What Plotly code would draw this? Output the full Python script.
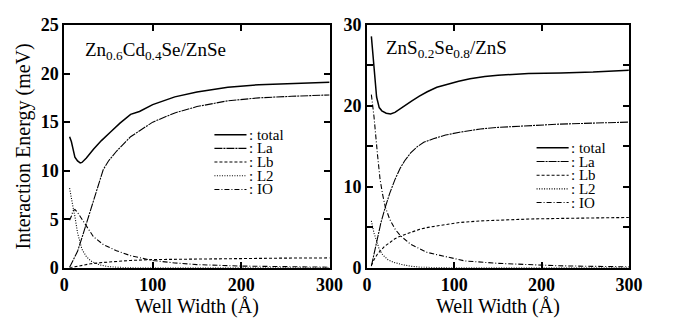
import plotly.graph_objects as go

# ---------------- data: left panel (Zn0.6Cd0.4Se/ZnSe) ----------------
w_total_L = [6, 8, 10, 12, 15, 18, 20, 25, 33, 42, 52, 63, 75, 85, 100, 125, 150, 185, 220, 257, 300]
total_L = [13.5, 13.0, 12.2, 11.4, 11.0, 10.8, 10.85, 11.3, 12.2, 13.1, 13.95, 14.9, 15.8, 16.1, 16.8, 17.6, 18.1, 18.6, 18.85, 19.0, 19.1]

w_La_L = [6, 8, 10, 13, 15, 20, 25, 30, 35, 40, 44, 50, 59, 75, 100, 125, 150, 185, 220, 257, 300]
La_L = [0.05, 0.4, 0.8, 1.2, 1.7, 3.1, 4.6, 6.1, 7.6, 9.1, 10.1, 11.0, 12.0, 13.5, 15.0, 15.95, 16.6, 17.2, 17.5, 17.66, 17.8]

w_Lb_L = [6, 10, 13, 20, 30, 44, 60, 75, 100, 150, 200, 250, 300]
Lb_L = [0.0, 0.08, 0.16, 0.3, 0.42, 0.55, 0.68, 0.76, 0.85, 0.92, 0.97, 1.0, 1.02]

w_L2_L = [6, 8, 10, 12, 15, 20, 25, 30, 40, 50, 60, 80, 100, 150, 200, 250, 300]
L2_L = [8.2, 7.0, 6.2, 5.3, 3.6, 1.9, 1.15, 0.7, 0.3, 0.12, 0.05, 0.01, 0.0, 0.0, 0.0, 0.0, 0.0]

w_IO_L = [6, 8, 10, 12, 15, 20, 25, 33, 44, 59, 75, 100, 125, 150, 200, 250, 300]
IO_L = [4.9, 5.3, 5.9, 6.0, 5.7, 5.0, 4.3, 3.2, 2.4, 1.76, 1.25, 0.75, 0.5, 0.33, 0.18, 0.1, 0.06]

# ---------------- data: right panel (ZnS0.2Se0.8/ZnS) ----------------
w_total_R = [5, 8, 11, 14, 17, 22, 27, 32, 36, 45, 51, 60, 69, 80, 92, 105, 118, 135, 150, 185, 222, 259, 300]
total_R = [28.6, 24.4, 21.1, 19.8, 19.4, 19.1, 19.0, 19.2, 19.5, 20.2, 20.6, 21.2, 21.75, 22.3, 22.7, 23.05, 23.37, 23.65, 23.8, 24.0, 24.07, 24.18, 24.4]

w_La_R = [5, 8, 12, 16, 21, 26, 32, 38, 43, 50, 58, 65, 76, 90, 106, 130, 150, 186, 220, 260, 300]
La_R = [0.2, 1.6, 3.7, 5.6, 7.5, 9.2, 10.9, 12.3, 13.2, 14.2, 15.0, 15.5, 15.95, 16.4, 16.75, 17.15, 17.35, 17.6, 17.75, 17.88, 18.0]

w_Lb_R = [5, 8, 12, 16, 20, 26, 32, 38, 50, 60, 70, 94, 106, 131, 151, 186, 220, 260, 300]
Lb_R = [0.3, 1.0, 1.7, 2.2, 2.65, 3.1, 3.6, 3.9, 4.4, 4.75, 5.0, 5.45, 5.6, 5.8, 5.9, 6.03, 6.1, 6.15, 6.22]

w_L2_R = [5, 8, 12, 14, 18, 24, 30, 40, 50, 60, 80, 100, 150, 200, 250, 300]
L2_R = [5.8, 4.3, 3.0, 2.3, 1.6, 1.0, 0.7, 0.4, 0.2, 0.08, 0.02, 0.0, 0.0, 0.0, 0.0, 0.0]

w_IO_R = [5, 8, 12, 15, 18, 21, 26, 32, 38, 50, 69, 75, 100, 112, 150, 186, 220, 260, 300]
IO_R = [21.4, 18.7, 14.0, 10.9, 9.0, 7.5, 6.0, 4.8, 4.0, 2.9, 1.9, 1.75, 1.1, 0.85, 0.55, 0.35, 0.25, 0.18, 0.12]

series_names = ["total", "La", "Lb", "L2", "IO"]
series_dash = ["solid", "8px,1px,2px,1px", "3px,2px", "1px,1.5px", "5px,2px,1px,2px"]
series_width = [1.5, 1.1, 1.1, 1.1, 1.1]

left_series = [(w_total_L, total_L), (w_La_L, La_L), (w_Lb_L, Lb_L), (w_L2_L, L2_L), (w_IO_L, IO_L)]
right_series = [(w_total_R, total_R), (w_La_R, La_R), (w_Lb_R, Lb_R), (w_L2_R, L2_R), (w_IO_R, IO_R)]

x_ticks = [0, 100, 200, 300]
y_ticks_L = [0, 5, 10, 15, 20, 25]
y_ticks_R = [0, 10, 20, 30]
y_minor_R = 5

panel_labels = ["Zn<sub>0.6</sub>Cd<sub>0.4</sub>Se/ZnSe", "ZnS<sub>0.2</sub>Se<sub>0.8</sub>/ZnS"]

W, H = 674, 320
FONT = "Liberation Serif, Times New Roman, serif"

fig = go.Figure()
for (wx, vy), name, dash, lw in zip(left_series, series_names, series_dash, series_width):
    fig.add_trace(go.Scatter(x=wx, y=vy, mode="lines", name=name, showlegend=False,
                             line=dict(color="black", width=lw, dash=dash), xaxis="x", yaxis="y"))
for (wx, vy), name, dash, lw in zip(right_series, series_names, series_dash, series_width):
    fig.add_trace(go.Scatter(x=wx, y=vy, mode="lines", name=name, showlegend=False,
                             line=dict(color="black", width=lw, dash=dash), xaxis="x2", yaxis="y2"))

def px_x(p):
    return p / W

def px_y(p):
    return 1 - p / H

axis_common = dict(showgrid=False, zeroline=False, showline=True, linecolor="black", linewidth=2,
                   mirror="allticks", ticks="inside", ticklen=6, tickwidth=1.5, tickcolor="black",
                   tickfont=dict(family=FONT, size=18, color="black", weight=700))

title_font = dict(family=FONT, size=20, color="black")

fig.update_layout(
    width=W, height=H, margin=dict(l=0, r=0, t=0, b=0),
    font=dict(family=FONT, color="black"),
    paper_bgcolor="white", plot_bgcolor="white", showlegend=False,
    xaxis=dict(domain=[px_x(61), px_x(334)], range=[0, 300], tickvals=x_ticks, anchor="y",
               title=dict(text="Well Width (Å)", font=title_font, standoff=1),
               **axis_common),
    yaxis=dict(domain=[px_y(275), px_y(16)], range=[0, 25], tickvals=y_ticks_L, anchor="x",
               title=dict(text="Interaction Energy (meV)", font=title_font, standoff=5),
               **axis_common),
    xaxis2=dict(domain=[px_x(372.5), px_x(642)], range=[0, 300], tickvals=x_ticks, anchor="y2",
                title=dict(text="Well Width (Å)", font=title_font, standoff=1),
                **axis_common),
    yaxis2=dict(domain=[px_y(275), px_y(16)], range=[0, 30], tickvals=y_ticks_R, anchor="x2",
                minor=dict(dtick=y_minor_R, ticks="inside", ticklen=6, tickwidth=1.5, tickcolor="black", showgrid=False),
                **axis_common),
)

# panel labels
fig.add_annotation(x=px_x(80), y=px_y(44), xref="paper", yref="paper", text=panel_labels[0],
                   showarrow=False, xanchor="left", yanchor="middle",
                   font=dict(family=FONT, size=19, color="black"))
fig.add_annotation(x=px_x(390), y=px_y(42), xref="paper", yref="paper", text=panel_labels[1],
                   showarrow=False, xanchor="left", yanchor="middle",
                   font=dict(family=FONT, size=19, color="black"))

# hand-drawn legends (one per panel)
legend_boxes = [dict(x0=215.5, x1=248.5, tx=249, y0=133, dy=14.6),
                dict(x0=547, x1=580, tx=580.5, y0=147, dy=14.6)]
for box in legend_boxes:
    for i, (name, dash, lw) in enumerate(zip(series_names, series_dash, series_width)):
        yy = box["y0"] + i * box["dy"]
        fig.add_shape(type="line", xref="paper", yref="paper",
                      x0=px_x(box["x0"]), x1=px_x(box["x1"]), y0=px_y(yy), y1=px_y(yy),
                      line=dict(color="black", width=lw, dash=dash))
        fig.add_annotation(x=px_x(box["tx"]), y=px_y(yy), xref="paper", yref="paper",
                           text=": " + name, showarrow=False, xanchor="left", yanchor="middle",
                           height=14, valign="middle",
                           font=dict(family=FONT, size=15, color="black"))

fig.write_html("out.html")
